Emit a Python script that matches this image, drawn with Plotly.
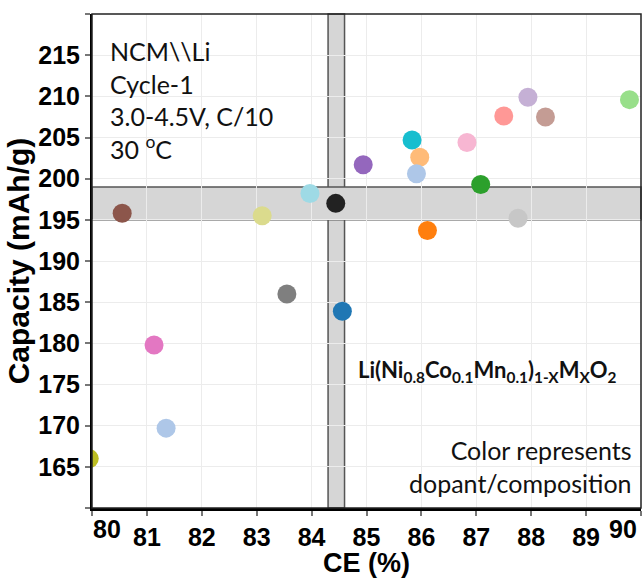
import plotly.graph_objects as go

# ---- data ----
ce = [79.95, 81.35, 81.13, 83.55, 80.55, 83.10, 83.97, 84.44, 84.56, 84.94,
      85.83, 85.97, 85.91, 86.11, 86.83, 87.08, 87.50, 87.76, 87.94, 88.26, 89.79]
capacity = [166.0, 169.7, 179.8, 186.0, 195.8, 195.5, 198.2, 197.0, 183.9, 201.7,
            204.7, 202.6, 200.6, 193.7, 204.4, 199.3, 207.6, 195.2, 209.9, 207.5, 209.6]
colors = ["#bcbd22", "#aec7e8", "#e377c2", "#7f7f7f", "#8c564b", "#dbdb8d", "#9edae5",
          "#222222", "#1f77b4", "#9467bd", "#17becf", "#ffbb78", "#aec7e8", "#ff7f0e",
          "#f7b6d2", "#2ca02c", "#ff9896", "#c7c7c7", "#c5b0d5", "#c49c94", "#98df8a"]

x_ticks = list(range(80, 91))
y_ticks = list(range(160, 221, 5))
x_range = [80, 90]
y_range = [160, 220]
ce_band = [84.3, 84.6]
cap_band = [195, 199]

info_lines = ["NCM\\\\Li", "Cycle-1", "3.0-4.5V, C/10", "30 <sup>o</sup>C"]
formula = "Li(Ni<sub>0.8</sub>Co<sub>0.1</sub>Mn<sub>0.1</sub>)<sub>1-X</sub>M<sub>X</sub>O<sub>2</sub>"
note_lines = ["Color represents", "dopant/composition"]

W, H = 642, 578
ML, MR, MT, MB = 92, 1, 14, 70
PW, PH = W - ML - MR, H - MT - MB

def px_to_paper_x(px):
    return (px - ML) / PW

def px_to_paper_y(py):
    return 1 - (py - MT) / PH

fig = go.Figure()
fig.add_trace(go.Scatter(
    x=ce, y=capacity, mode="markers",
    marker=dict(size=19, color=colors, line=dict(width=0)),
    hoverinfo="x+y", showlegend=False,
))

# gray bands
band_style = dict(fillcolor="#d6d6d6", line=dict(color="#555555", width=1.5), layer="below")
fig.add_shape(type="rect", xref="x", yref="paper", x0=ce_band[0], x1=ce_band[1], y0=0, y1=1, **band_style)
fig.add_shape(type="rect", xref="paper", yref="y", x0=0, x1=1, y0=cap_band[0], y1=cap_band[1], **band_style)
# frame
fig.add_shape(type="rect", xref="paper", yref="paper", x0=0, x1=1, y0=0, y1=1,
              line=dict(color="#222222", width=1.5), layer="above")

tick_font = dict(family="Liberation Sans, Arial, sans-serif", size=25, color="black", weight="bold")
x_text = ["" if v in (x_range[0], x_range[1]) else str(v) for v in x_ticks]
y_text = ["" if v in (y_range[0], y_range[1]) else str(v) for v in y_ticks]

fig.update_xaxes(
    range=x_range, tickvals=x_ticks, ticktext=x_text,
    showgrid=True, gridcolor="#ececec", gridwidth=1, zeroline=False,
    showline=True, linecolor="black", linewidth=3,
    ticks="outside", ticklen=5, tickwidth=1.5, tickcolor="#777777",
    tickfont=tick_font,
    title=dict(text="CE (%)", font=dict(family="Liberation Sans, Arial, sans-serif", size=27, color="black", weight="bold"), standoff=6),
)
fig.update_yaxes(
    range=y_range, tickvals=y_ticks, ticktext=y_text,
    showgrid=True, gridcolor="#ececec", gridwidth=1, zeroline=False,
    showline=True, linecolor="black", linewidth=2,
    ticks="outside", ticklen=5, tickwidth=1.5, tickcolor="#777777",
    tickfont=tick_font,
    title=dict(text="Capacity (mAh/g)", font=dict(family="Liberation Sans, Arial, sans-serif", size=30, color="black", weight="bold"), standoff=0),
)

# end tick labels kept inside the figure, as in the reference
fig.add_annotation(x=x_ticks[0], y=0, xref="x", yref="paper", text=str(x_ticks[0]),
                   showarrow=False, xanchor="left", yanchor="top", yshift=-5, xshift=-1, font=tick_font)
fig.add_annotation(x=x_ticks[-1], y=0, xref="x", yref="paper", text=str(x_ticks[-1]),
                   showarrow=False, xanchor="right", yanchor="top", yshift=-5, xshift=-2, font=tick_font)

text_font = dict(family="Lato, sans-serif", size=25, color="#111111")
fig.add_annotation(x=px_to_paper_x(108), y=px_to_paper_y(34), xref="paper", yref="paper",
                   text="<br>".join(info_lines), showarrow=False, align="left",
                   xanchor="left", yanchor="top", font=text_font)
fig.add_annotation(x=px_to_paper_x(619), y=px_to_paper_y(371), xref="paper", yref="paper",
                   text="<b>" + formula + "</b>", showarrow=False,
                   xanchor="right", yanchor="middle",
                   font=dict(family="Lato, sans-serif", size=22, color="#111111"))
fig.add_annotation(x=px_to_paper_x(634), y=px_to_paper_y(500), xref="paper", yref="paper",
                   text="<br>".join(note_lines), showarrow=False, align="right",
                   xanchor="right", yanchor="bottom", font=text_font)

fig.update_layout(
    width=W, height=H,
    margin=dict(l=ML, r=MR, t=MT, b=MB, pad=0),
    paper_bgcolor="white", plot_bgcolor="white",
)

fig.write_html("out.html", config={"displayModeBar": False},
               post_script="document.body.style.margin='0px';document.body.style.overflow='hidden';")
